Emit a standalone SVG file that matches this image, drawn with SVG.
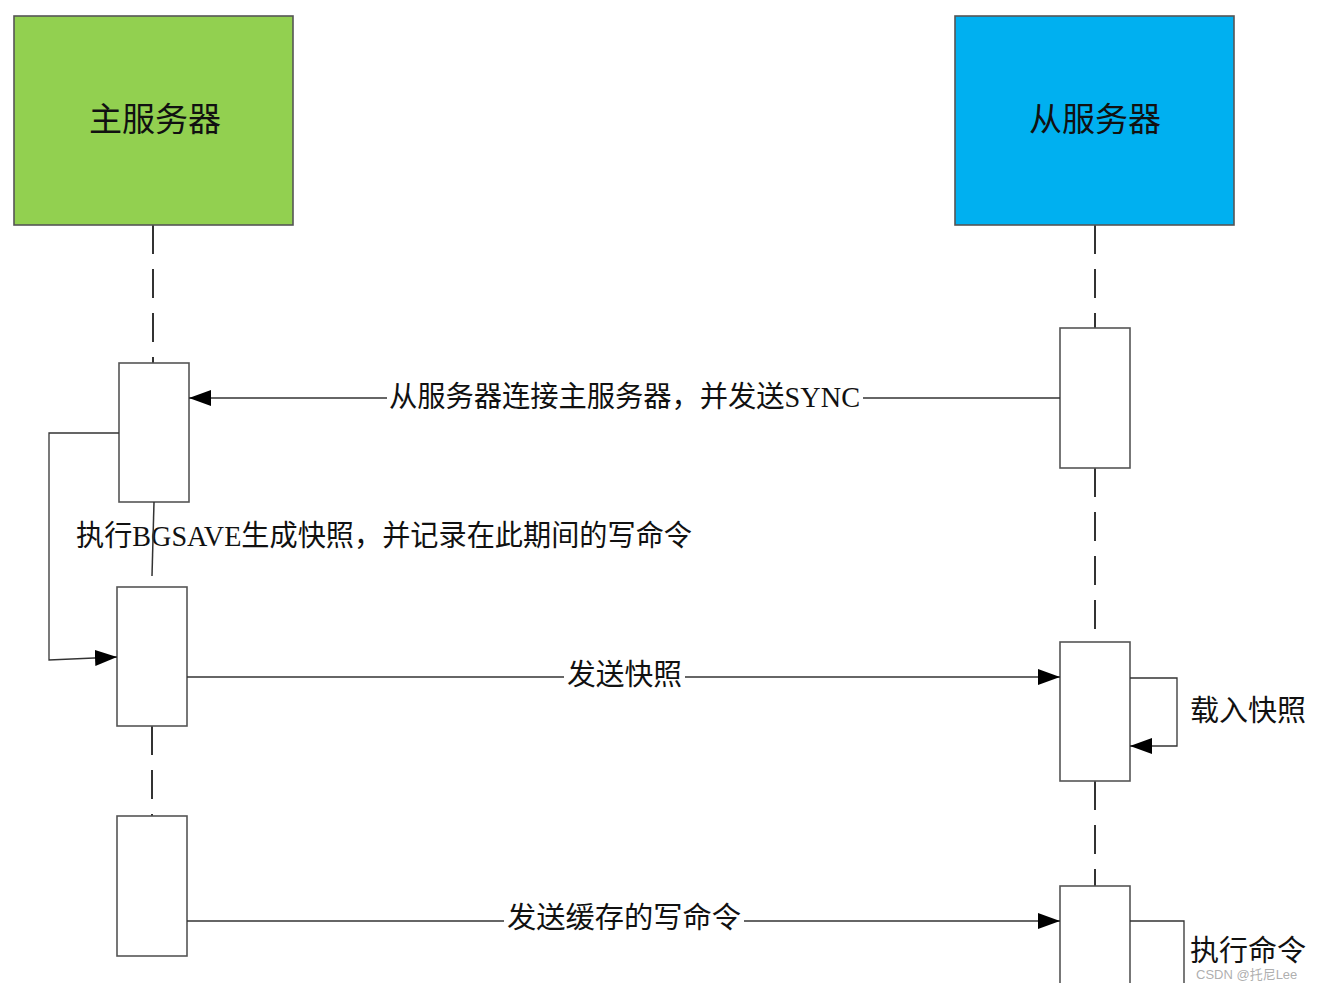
<svg xmlns="http://www.w3.org/2000/svg" width="1317" height="983" viewBox="0 0 1317 983">
<defs>
<marker id="ah" viewBox="0 0 22 16" refX="22" refY="8" markerWidth="22" markerHeight="16" markerUnits="userSpaceOnUse" orient="auto">
<path d="M0,0 L22,8 L0,16 Z" fill="#000"/>
</marker>
<style>
.lbl{font-family:"Liberation Serif","Noto Sans CJK SC",serif;font-size:29px;fill:#111;dominant-baseline:central}
.ttl{font-family:"Liberation Serif","Noto Sans CJK SC",serif;font-size:33px;fill:#111;text-anchor:middle;dominant-baseline:central}
.act{fill:#fff;stroke:#555;stroke-width:1.6}
.life{stroke:#333;stroke-width:2;fill:none;stroke-dasharray:29 15}
.solid{stroke:#333;stroke-width:1.5;fill:none}
.conn{stroke:#333;stroke-width:1.3;fill:none}
</style>
</defs>
<rect width="1317" height="983" fill="#fff"/>
<g id="lifelines">
<line class="life" x1="153" y1="225" x2="153" y2="363"/>
<line class="life" x1="152" y1="726" x2="152" y2="816"/>
<line class="life" x1="1095" y1="225" x2="1095" y2="328"/>
<line class="life" x1="1095" y1="468" x2="1095" y2="642"/>
<line class="life" x1="1095" y1="781" x2="1095" y2="886"/>
</g>
<g id="master">
<rect x="14" y="16" width="279" height="209" fill="#92d050" stroke="#555" stroke-width="1.6"/>
<text class="ttl" x="155" y="120">主服务器</text>
</g>
<g id="slave">
<rect x="955" y="16" width="279" height="209" fill="#00b0f0" stroke="#555" stroke-width="1.6"/>
<text class="ttl" x="1095" y="120">从服务器</text>
</g>
<g id="m-act1"><rect class="act" x="119" y="363" width="70" height="139"/></g>
<g id="m-act2"><rect class="act" x="117" y="587" width="70" height="139"/></g>
<g id="m-act3"><rect class="act" x="117" y="816" width="70" height="140"/></g>
<g id="s-act1"><rect class="act" x="1060" y="328" width="70" height="140"/></g>
<g id="s-act2"><rect class="act" x="1060" y="642" width="70" height="139"/></g>
<g id="s-act3"><rect class="act" x="1060" y="886" width="70" height="110"/></g>
<g id="connectors">
<line class="conn" x1="1060" y1="398" x2="189" y2="398" marker-end="url(#ah)"/>
<polyline class="conn" points="119,433 49,433 49,660 117,657" marker-end="url(#ah)"/>
<line class="conn" x1="187" y1="677" x2="1060" y2="677" marker-end="url(#ah)"/>
<polyline class="conn" points="1130,678 1177,678 1177,746 1130,746" marker-end="url(#ah)"/>
<line class="conn" x1="187" y1="921" x2="1060" y2="921" marker-end="url(#ah)"/>
<polyline class="conn" points="1130,921 1184,921 1184,990"/>
</g>
<g id="labels">
<rect x="387" y="380" width="476" height="36" fill="#fff"/>
<text class="lbl" x="389" y="397" textLength="471" lengthAdjust="spacingAndGlyphs">从服务器连接主服务器，并发送SYNC</text>
<text class="lbl" x="76" y="536" textLength="616" lengthAdjust="spacingAndGlyphs">执行BGSAVE生成快照，并记录在此期间的写命令</text>
<rect x="564" y="658" width="121" height="36" fill="#fff"/>
<text class="lbl" x="567" y="675" textLength="115" lengthAdjust="spacingAndGlyphs">发送快照</text>
<text class="lbl" x="1190" y="711" textLength="116" lengthAdjust="spacingAndGlyphs">载入快照</text>
<rect x="504" y="901" width="240" height="36" fill="#fff"/>
<text class="lbl" x="507" y="918" textLength="234" lengthAdjust="spacingAndGlyphs">发送缓存的写命令</text>
<text class="lbl" x="1190" y="951" textLength="116" lengthAdjust="spacingAndGlyphs">执行命令</text>
<text x="1196" y="979" font-family="Liberation Sans,Noto Sans CJK SC,sans-serif" font-size="13" fill="#999" fill-opacity="0.8">CSDN @托尼Lee</text>
</g>
<line id="m-life-solid" class="solid" x1="154" y1="502" x2="152" y2="576"/>
</svg>
